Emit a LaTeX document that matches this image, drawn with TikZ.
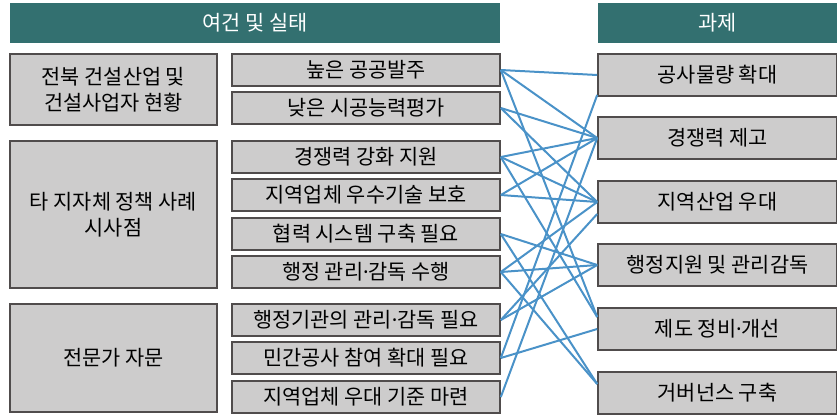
\documentclass[tikz,border=0pt]{standalone}
\usepackage{fontspec}
\setmainfont{Noto Sans CJK KR}
\newfontfamily\latinfont{Noto Sans}
\usepackage{tikz}
\usetikzlibrary{positioning}
\definecolor{headteal}{RGB}{51,112,112}
\definecolor{boxgray}{RGB}{205,204,204}
\definecolor{boxline}{RGB}{80,76,76}
\definecolor{linkblue}{RGB}{74,146,200}
\def\issuex{366}
\def\mdot{{\latinfont ·}}
\tikzstyle{head}=[fill=headteal, text=white, inner sep=0pt, minimum height=20pt, font=\fontsize{10.4}{12}\selectfont]
\tikzstyle{box}=[draw=boxline, fill=boxgray, line width=0.8pt, inner sep=0pt, align=center, font=\fontsize{10.4}{13}\selectfont]
\tikzstyle{group}=[box, minimum width=103.5pt]
\tikzstyle{issue}=[box, minimum width=134pt, minimum height=16pt]
\tikzstyle{task}=[box, minimum width=119.5pt, minimum height=21pt]
\tikzstyle{link}=[draw=linkblue, line width=1pt]

\begin{document}
\begin{tikzpicture}[x=0.5pt, y=-0.5pt]
			\useasboundingbox (0,0) rectangle (837,414);

			% Draw the two headers
			\node[head, minimum width=245pt] (H-1) at (255,23) {여건 및 실태};
			\node[head, minimum width=119.5pt] (H-2) at (717.5,23) {과제};

			% Draw the group boxes
			\node[group, minimum height=35.5pt] (G-1) at (113.5,89.5) {전북 건설산업 및\\건설사업자 현황};
			\node[group, minimum height=73.5pt] (G-2) at (113.5,214.5) {타 지자체 정책 사례\\시사점};
			\node[group, minimum height=54pt] (G-3) at (113.5,358) {전문가 자문};

			% Draw the issue boxes
			\foreach \name / \y / \txt in {1/70/높은 공공발주, 2/108/낮은 시공능력평가,
				3/157/경쟁력 강화 지원, 4/195/지역업체 우수기술 보호, 5/234/협력 시스템 구축 필요,
				6/272/행정 관리\mdot 감독 수행, 7/320/행정기관의 관리\mdot 감독 필요,
				8/358/민간공사 참여 확대 필요, 9/397/지역업체 우대 기준 마련}
			\node[issue] (I-\name) at (\issuex,\y) {\txt};

			% Draw the task boxes
			\foreach \name / \y / \txt in {1/75/공사물량 확대, 2/138/경쟁력 제고, 3/202/지역산업 우대,
				4/265/행정지원 및 관리감독, 5/329/제도 정비\mdot 개선, 6/393/거버넌스 구축}
			\node[task] (T-\name) at (717.5,\y) {\txt};

			% Connect the issues with the tasks
			\foreach \source / \dest / \off in {1/1/0, 1/2/0, 1/5/6, 2/2/0, 2/3/0,
				3/2/0, 3/3/0, 3/5/6, 4/2/0, 4/3/0, 5/4/0, 5/6/4.5,
				6/3/0, 6/4/0, 6/6/4.5, 7/3/-6, 7/4/0, 8/1/-10, 8/5/0, 9/2/0}
			\draw[link] (I-\source.east) -- ([yshift=\off pt]T-\dest.west);
		\end{tikzpicture}
\end{document}
